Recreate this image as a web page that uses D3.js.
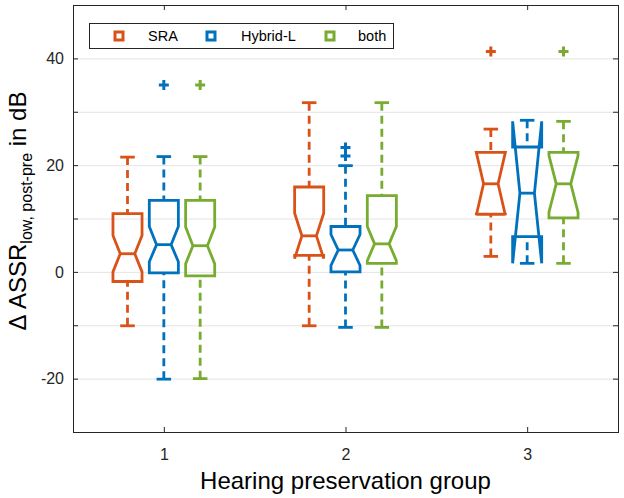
<!DOCTYPE html>
<html>
<head>
<meta charset="utf-8">
<script src="https://cdn.jsdelivr.net/npm/d3@7"></script>
<style>
  body { margin: 0; background: #fff; }
  svg { display: block; font-family: "Liberation Sans", Arial, sans-serif; }
</style>
</head>
<body>
<div id="chart"></div>
<script>
// groups on the x axis and the three series
const groups = [1, 2, 3];
const seriesNames = ["SRA", "Hybrid-L", "both"];
const colors = ["#D95319", "#0072BD", "#77AC30"];

// box statistics, indexed [series][group]
const whiskerLow  = [[-10.1, -10.1, 2.9], [-20.1, -10.4, 1.6], [-20.0, -10.4, 1.6]];
const q1          = [[-1.8, 3.1, 10.8], [-0.2, 0.0, 6.6], [-0.75, 1.6, 10.1]];
const notchLow    = [[0.0, 2.5, 10.6], [1.9, 1.2, 1.6], [1.5, 2.1, 11.2]];
const median      = [[3.4, 6.75, 16.5], [5.1, 4.1, 14.75], [4.9, 5.25, 16.5]];
const notchHigh   = [[6.8, 11.0, 22.4], [8.5, 7.0, 28.2], [8.4, 8.5, 21.8]];
const q3          = [[10.9, 15.9, 22.4], [13.4, 8.5, 23.4], [13.4, 14.3, 22.4]];
const whiskerHigh = [[21.5, 31.7, 26.75], [21.6, 19.9, 28.4], [21.6, 31.7, 28.2]];
const outliers    = [[[], [], [41.3]], [[35.0], [23.3, 21.7], []], [[35.0], [], [41.3]]];

// axis ticks
const yTicks = [-30, -20, -10, 0, 10, 20, 30, 40, 50];
const yLabels = [-20, 0, 20, 40];

const width = 624, height = 498;
const margin = {left: 73, right: 6, top: 5, bottom: 66};

const x = d3.scaleLinear().domain([0.5, 3.5]).range([margin.left, width - margin.right]);
const y = d3.scaleLinear().domain([-30, 50]).range([height - margin.bottom, margin.top]);

const offset = 0.2;   // series offset inside a group
const boxHalf = 0.08; // half box width
const notchHalf = 0.04;

const svg = d3.select("#chart").append("svg")
    .attr("width", width)
    .attr("height", height);

// grid
svg.append("g")
    .attr("stroke", "#e4e4e4")
    .attr("stroke-width", 1)
  .selectAll("line")
  .data(yTicks.slice(1, -1))
  .join("line")
    .attr("x1", x.range()[0])
    .attr("x2", x.range()[1])
    .attr("y1", d => y(d) + 0.5)
    .attr("y2", d => y(d) + 0.5);

// boxes
const line = d3.line();
seriesNames.forEach((name, s) => {
  const g = svg.append("g")
      .attr("stroke", colors[s])
      .attr("stroke-width", 2.8)
      .attr("stroke-miterlimit", 2)
      .attr("fill", "none");

  groups.forEach((grp, i) => {
    const cx = grp + (s - 1) * offset;
    const xl = x(cx - boxHalf), xr = x(cx + boxHalf);
    const nl = x(cx - notchHalf), nr = x(cx + notchHalf);
    const pts = [
      [xl, y(q3[s][i])], [xl, y(notchHigh[s][i])], [nl, y(median[s][i])],
      [xl, y(notchLow[s][i])], [xl, y(q1[s][i])], [xr, y(q1[s][i])],
      [xr, y(notchLow[s][i])], [nr, y(median[s][i])], [xr, y(notchHigh[s][i])],
      [xr, y(q3[s][i])]
    ];
    g.append("path").attr("d", line(pts) + "Z");

    // median
    g.append("line")
        .attr("x1", nl).attr("x2", nr)
        .attr("y1", y(median[s][i])).attr("y2", y(median[s][i]));

    // whiskers
    [[q3[s][i], whiskerHigh[s][i]], [q1[s][i], whiskerLow[s][i]]].forEach(([a, b]) => {
      g.append("line")
          .attr("x1", x(cx)).attr("x2", x(cx))
          .attr("y1", y(b)).attr("y2", y(a))
          .attr("stroke-dasharray", "8,5");
      g.append("line")
          .attr("x1", nl).attr("x2", nr)
          .attr("y1", y(b)).attr("y2", y(b));
    });

    // outliers
    outliers[s][i].forEach(v => {
      const px = x(cx), py = y(v);
      g.append("path")
          .attr("stroke-width", 3)
          .attr("d", `M${px - 5},${py}H${px + 5}M${px},${py - 5}V${py + 5}`);
    });
  });
});

// axes
const axisColor = "#262626";
const yAxis = svg.append("g")
    .attr("transform", `translate(${x.range()[0]},0)`)
    .call(d3.axisLeft(y).tickValues(yTicks.slice(1, -1))
      .tickSizeInner(-5).tickSizeOuter(0).tickPadding(9)
      .tickFormat(d => yLabels.includes(d) ? String(d) : ""));
const yAxisR = svg.append("g")
    .attr("transform", `translate(${x.range()[1]},0)`)
    .call(d3.axisRight(y).tickValues(yTicks.slice(1, -1))
      .tickSizeInner(-5).tickSizeOuter(0).tickFormat(""));
const xAxis = svg.append("g")
    .attr("transform", `translate(0,${y.range()[0]})`)
    .call(d3.axisBottom(x).tickValues(groups)
      .tickSizeInner(-5).tickSizeOuter(0).tickPadding(17)
      .tickFormat(d => String(d)));
const xAxisT = svg.append("g")
    .attr("transform", `translate(0,${y.range()[1]})`)
    .call(d3.axisTop(x).tickValues(groups)
      .tickSizeInner(-5).tickSizeOuter(0).tickFormat(""));

[yAxis, yAxisR, xAxis, xAxisT].forEach(a => {
  a.select(".domain").remove();
  a.selectAll(".tick line").attr("stroke", axisColor);
  a.selectAll("text")
      .attr("fill", axisColor)
      .style("font-size", "16px")
      .style("font-family", "'Liberation Sans', Arial, sans-serif");
});

svg.append("rect")
    .attr("x", x.range()[0] + 0.5)
    .attr("y", y.range()[1] + 0.5)
    .attr("width", x.range()[1] - x.range()[0])
    .attr("height", y.range()[0] - y.range()[1])
    .attr("fill", "none")
    .attr("stroke", axisColor)
    .attr("stroke-width", 1);

// axis labels
svg.append("text")
    .attr("x", (x.range()[0] + x.range()[1]) / 2)
    .attr("y", 489)
    .attr("text-anchor", "middle")
    .attr("fill", "#000")
    .style("font-size", "24px")
    .text("Hearing preservation group");

const ylab = svg.append("text")
    .attr("transform", "translate(26,211) rotate(-90)")
    .attr("text-anchor", "middle")
    .attr("fill", "#000")
    .style("font-size", "24px");
ylab.append("tspan").text("\u0394 ASSR");
ylab.append("tspan").attr("dy", 6).style("font-size", "16px").text("low, post-pre");
ylab.append("tspan").attr("dy", -6).text(" in dB");

// legend
const legend = svg.append("g");
legend.append("rect")
    .attr("x", 89.5).attr("y", 23.5)
    .attr("width", 304).attr("height", 25)
    .attr("fill", "#fff")
    .attr("stroke", axisColor)
    .attr("stroke-width", 1);
const legendMarkX = [119, 211, 330];
const legendTextX = [148, 241, 358];
seriesNames.forEach((name, s) => {
  legend.append("rect")
      .attr("x", legendMarkX[s] - 4).attr("y", 36 - 4)
      .attr("width", 8).attr("height", 8)
      .attr("fill", "#fff")
      .attr("stroke", colors[s])
      .attr("stroke-width", 3);
  legend.append("text")
      .attr("x", legendTextX[s]).attr("y", 41)
      .attr("fill", "#000")
      .style("font-size", "14.5px")
      .text(name);
});
</script>
</body>
</html>
